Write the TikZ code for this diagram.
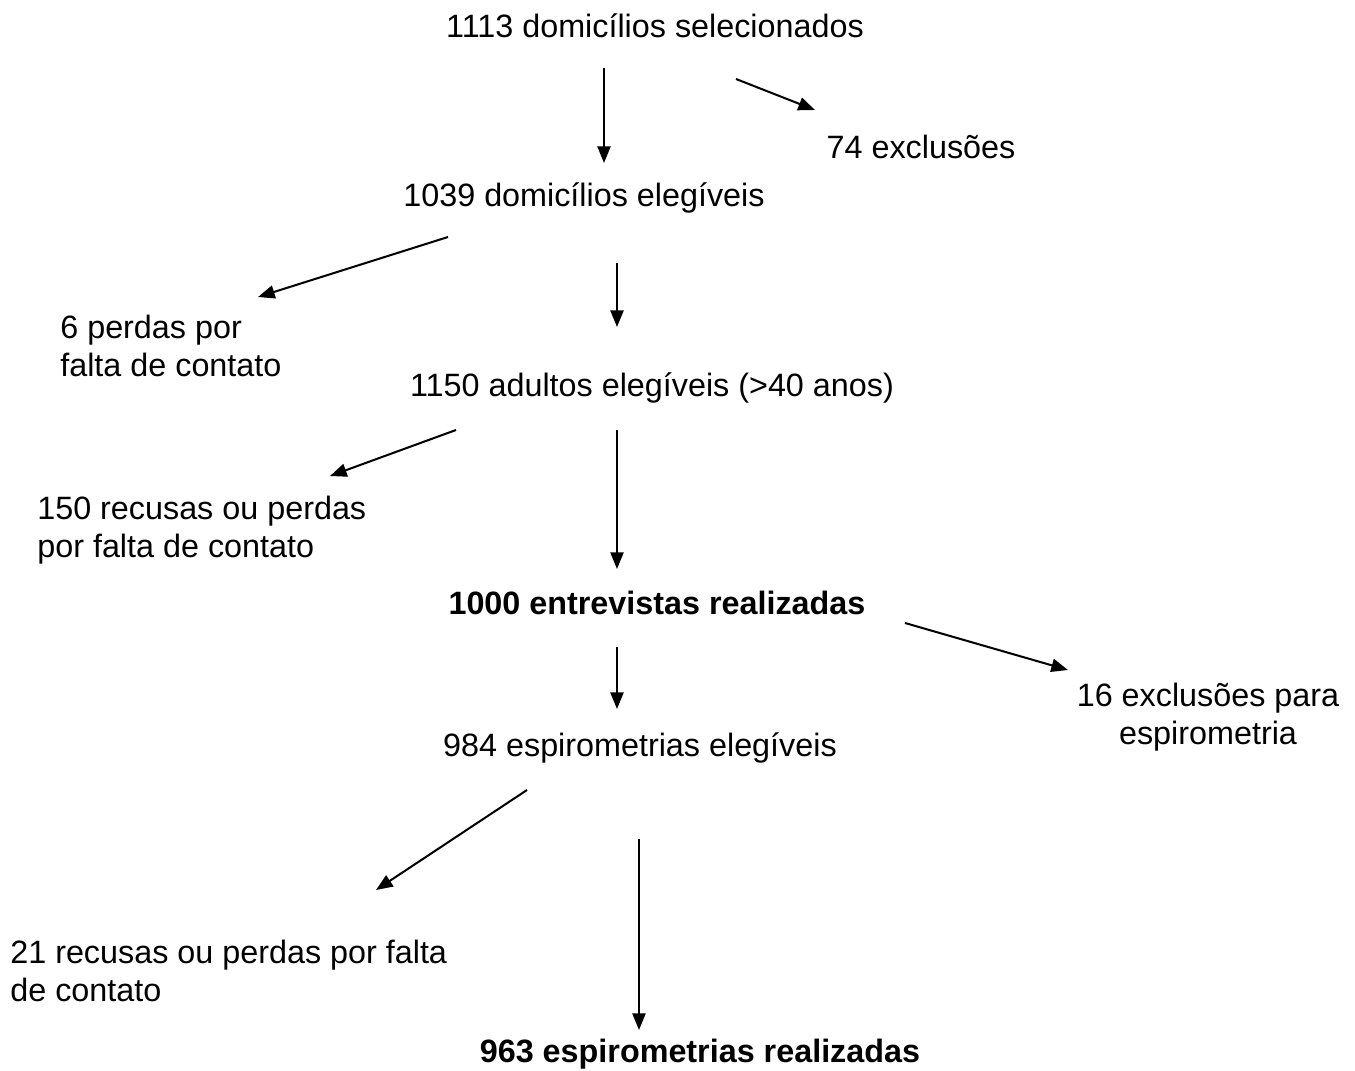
\documentclass[tikz,border=0pt]{standalone}
\usepackage{fontspec}
\setmainfont{Liberation Sans}
\usetikzlibrary{arrows.meta}

\begin{document}
\begin{tikzpicture}[x=0.02cm, y=-0.02cm,
    txt/.style={font=\fontsize{18.4}{21.5}\selectfont, inner sep=0pt},
    one/.style={txt, text height=0.75em, text depth=0.25em},
    bold/.style={one, font=\fontsize{18.4}{21.5}\selectfont\bfseries},
    two/.style={txt, align=center},
    twol/.style={txt, align=left, anchor=west},
    arr/.style={line width=1.15pt, -{Triangle[length=9.5pt, width=7.5pt]}}]

  \useasboundingbox (0,0) rectangle (1355,1071);

  % households
  \node[one] (sel) at (655,33) {1113 domicílios selecionados};
  \node[one] (exc) at (921,154) {74 exclusões};
  \node[one] (eld) at (584,202) {1039 domicílios elegíveis};
  \node[twol] (pdc) at (60,346) {6 perdas por\\falta de contato};

  % adults
  \node[one] (ela) at (652,392) {1150 adultos elegíveis (>40 anos)};
  \node[twol] (rec) at (37,530) {150 recusas ou perdas\\por falta de contato};
  \node[bold] (ent) at (657,610) {1000 entrevistas realizadas};
  \node[two] (exe) at (1208,717) {16 exclusões para\\espirometria};

  % spirometry
  \node[one] (ele) at (640,752) {984 espirometrias elegíveis};
  \node[twol] (ree) at (10,971) {21 recusas ou perdas por falta\\de contato};
  \node[bold] (esp) at (700,1058) {963 espirometrias realizadas};

  % arrow ends
  \coordinate (a1) at (604,68);   \coordinate (b1) at (604,163);
  \coordinate (a2) at (736,79);   \coordinate (b2) at (815,110);
  \coordinate (a3) at (448,237);  \coordinate (b3) at (258,297);
  \coordinate (a4) at (617,263);  \coordinate (b4) at (617,327);
  \coordinate (a5) at (456,430);  \coordinate (b5) at (330,476);
  \coordinate (a6) at (617,430);  \coordinate (b6) at (617,569);
  \coordinate (a7) at (905,623);  \coordinate (b7) at (1068,670);
  \coordinate (a8) at (617,647);  \coordinate (b8) at (617,709);
  \coordinate (a9) at (527,790);  \coordinate (b9) at (376,890);
  \coordinate (a10) at (639,839); \coordinate (b10) at (639,1030);

  \foreach \i in {1,...,10}
    \draw[arr] (a\i) -- (b\i);
\end{tikzpicture}
\end{document}
